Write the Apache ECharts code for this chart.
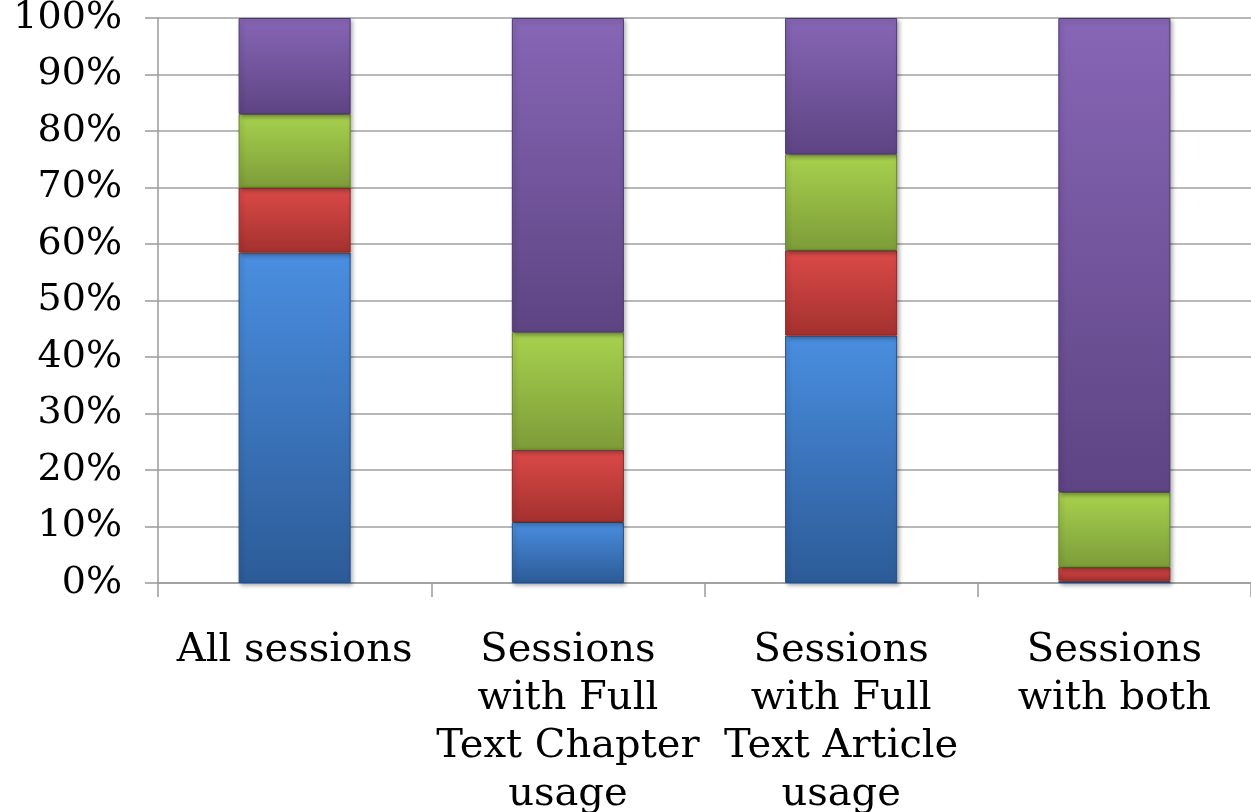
<!DOCTYPE html>
<html>
<head>
<meta charset="utf-8">
<script src="https://cdn.jsdelivr.net/npm/echarts@6/dist/echarts.min.js"></script>
<style>
html,body{margin:0;padding:0;background:#fff;}
#chart{width:1251px;height:812px;}
</style>
</head>
<body>
<div id="chart"></div>
<script>
const categories = ["All sessions", "Sessions\nwith Full\nText Chapter\nusage", "Sessions\nwith Full\nText Article\nusage", "Sessions\nwith both"];
const blueValues = [58.5, 10.8, 43.8, 0.4];
const redValues = [11.5, 12.8, 15.1, 2.4];
const greenValues = [13.0, 20.8, 17.0, 13.3];
const purpleValues = [17.0, 55.6, 24.1, 83.9];
const yTicks = [0, 10, 20, 30, 40, 50, 60, 70, 80, 90, 100];

function grad(top, bottom) {
  return new echarts.graphic.LinearGradient(0, 0, 0, 1, [
    {offset: 0, color: top},
    {offset: 1, color: bottom}
  ]);
}
function mkSeries(name, data, top, bottom, border) {
  return {
    name: name,
    type: 'bar',
    stack: 'total',
    data: data,
    barWidth: '41%',
    itemStyle: {
      color: grad(top, bottom),
      borderColor: border,
      borderWidth: 1,
      shadowBlur: 4,
      shadowColor: 'rgba(0,0,0,0.3)',
      shadowOffsetX: 2,
      shadowOffsetY: 2
    }
  };
}

const chart = echarts.init(document.getElementById('chart'));
chart.setOption({
  animation: false,
  backgroundColor: '#ffffff',
  grid: {left: 158, right: 0, top: 18, bottom: 229, containLabel: false, outerBoundsMode: 'none'},
  xAxis: {
    type: 'category',
    data: categories,
    axisLine: {show: true, lineStyle: {color: '#9a9a9a', width: 1.5}},
    axisTick: {show: true, length: 14, lineStyle: {color: '#9a9a9a', width: 1.5}},
    axisLabel: {
      interval: 0,
      margin: 44,
      fontFamily: 'DejaVu Serif',
      fontSize: 40,
      lineHeight: 48,
      color: '#000',
      align: 'center',
      overflow: 'none',
      hideOverlap: false
    }
  },
  yAxis: {
    type: 'value',
    min: 0,
    max: 100,
    interval: 10,
    axisLine: {show: true, lineStyle: {color: '#9a9a9a', width: 1.5}},
    axisTick: {show: true, length: 13, lineStyle: {color: '#9a9a9a', width: 1.5}},
    splitLine: {show: true, lineStyle: {color: '#a0a0a0', width: 1.5}},
    axisLabel: {
      margin: 36,
      fontFamily: 'DejaVu Serif',
      fontSize: 38,
      color: '#000',
      formatter: function (v) { return yTicks.indexOf(v) >= 0 ? v + '%' : ''; }
    }
  },
  series: [
    mkSeries('Blue', blueValues, '#4a8ee0', '#2c5b97', '#284f80'),
    mkSeries('Red', redValues, '#dc4a48', '#a3312f', '#8a2a28'),
    mkSeries('Green', greenValues, '#a8d24e', '#7d9c39', '#6a8530'),
    mkSeries('Purple', purpleValues, '#8766b6', '#5e4483', '#4d3870')
  ]
});
</script>
</body>
</html>
